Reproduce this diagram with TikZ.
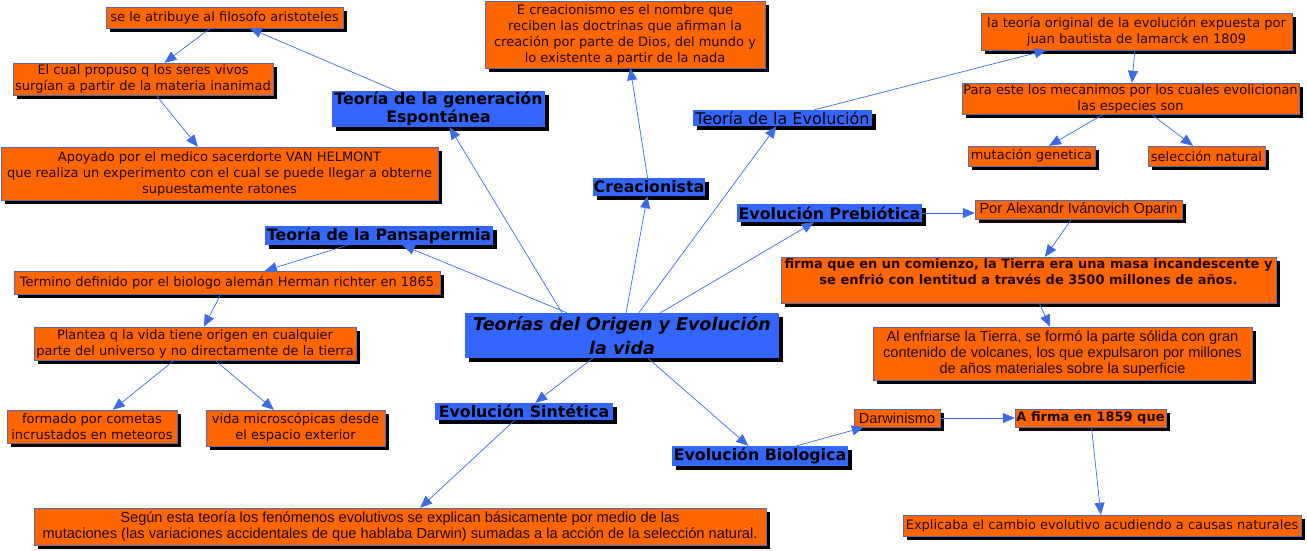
\documentclass[tikz,border=0pt]{standalone}
\usepackage{fontspec}
\setmainfont{DejaVu Sans}
\newfontfamily\narrowfont{Liberation Sans}
\usetikzlibrary{arrows.meta,shadows}
\definecolor{orangefill}{HTML}{FF6600}
\definecolor{bluefill}{HTML}{3366FF}
\definecolor{edgeblue}{HTML}{3D6BE6}
\definecolor{boxline}{HTML}{5A6AA8}
\definecolor{darktext}{HTML}{220800}

\begin{document}
\begin{tikzpicture}[x=1pt,y=-1pt,
boxshadow/.style={drop shadow={shadow xshift=4pt,shadow yshift=-4pt,fill=black,opacity=1}},
sz/.style 2 args={minimum width=#1pt,minimum height=#2pt},
note/.style={draw=boxline,fill=orangefill,boxshadow,align=center,inner sep=1pt,text=darktext,font=\fontsize{13}{16}\selectfont},
narrownote/.style={note,font=\narrowfont\fontsize{14.6}{16}\selectfont},
topic/.style={fill=bluefill,boxshadow,align=center,inner sep=1pt,text=black,font=\bfseries\fontsize{15.8}{18}\selectfont},
arr/.style={-{Triangle[length=12pt,width=10pt]},edgeblue,line width=0.7pt}
]
\useasboundingbox (0,0) rectangle (1307,551);
% centre
\node[topic,sz={314}{45},font=\bfseries\itshape\fontsize{17.5}{24}\selectfont] (central) at (622,335.5) {Teorías del Origen y Evolución\\la vida};
% generacion espontanea
\node[topic,sz={213}{36}] (espontanea) at (438.5,109) {Teoría de la generación\\Espontánea};
\node[note,sz={237}{21}] (aristoteles) at (224.5,17.5) {se le atribuye al filosofo aristoteles};
\node[note,sz={260}{32}] (propuso) at (143,79) {El cual propuso q los seres vivos\\surgían a partir de la materia inanimad};
\node[note,sz={437}{53}] (helmont) at (219.5,173.5) {Apoyado por el medico sacerdorte VAN HELMONT\\que realiza un experimento con el cual se puede llegar a obterne\\supuestamente ratones};
% creacionismo
\node[topic,sz={112}{18}] (creacionista) at (649,187) {Creacionista};
\node[note,sz={280}{67}] (creacion) at (625,34.5) {E creacionismo es el nombre que\\reciben las doctrinas que afirman la\\creación por parte de Dios, del mundo y\\lo existente a partir de la nada};
% lamarck
\node[topic,sz={179}{16},font=\fontsize{16}{18}\selectfont] (teoevol) at (782.5,118) {Teoría de la Evolución};
\node[note,sz={311}{37}] (lamarck) at (1136.5,31.5) {la teoría original de la evolución expuesta por\\juan bautista de lamarck en 1809};
\node[note,sz={337}{31}] (mecanimos) at (1130.5,98.5) {Para este los mecanimos por los cuales evolicionan\\las especies son};
\node[note,sz={127}{20}] (mutacion) at (1031.5,156) {mutación genetica};
\node[note,sz={117}{20}] (seleccion) at (1206.5,156) {selección natural};
% prebiotica
\node[topic,sz={185}{18}] (prebiotica) at (829.5,213) {Evolución Prebiótica};
\node[narrownote,sz={207}{19}] (oparin) at (1078.5,209.5) {Por Alexandr Ivánovich Oparin};
\node[note,sz={495}{46},font=\bfseries\fontsize{13}{16}\selectfont] (firma) at (1028.5,280) {firma que en un comienzo, la Tierra era una masa incandescente y\\se enfrió con lentitud a través de 3500 millones de años.\\\mbox{}};
\node[narrownote,sz={379}{53}] (enfriarse) at (1062.5,353.5) {Al enfriarse la Tierra, se formó la parte sólida con gran\\contenido de volcanes, los que expulsaron por millones\\de años materiales sobre la superficie};
% pansapermia
\node[topic,sz={228}{19}] (pansapermia) at (379,235.5) {Teoría de la Pansapermia};
\node[note,sz={426}{23}] (richter) at (227,282.5) {Termino definido por el biologo alemán Herman richter en 1865};
\node[note,sz={322}{33}] (plantea) at (195,343.5) {Plantea q la vida tiene origen en cualquier\\parte del universo y no directamente de la tierra};
\node[note,sz={170}{33}] (cometas) at (92,426.5) {formado por cometas\\incrustados en meteoros};
\node[note,sz={179}{36}] (microscopicas) at (295.5,428) {vida microscópicas desde\\el espacio exterior};
% sintetica y biologica
\node[topic,sz={178}{17}] (sintetica) at (524,411.5) {Evolución Sintética};
\node[narrownote,sz={732}{37}] (segun) at (400,526.5) {Según esta teoría los fenómenos evolutivos se explican básicamente por medio de las\\mutaciones (las variaciones accidentales de que hablaba Darwin) sumadas a la acción de la selección natural.};
\node[topic,sz={176}{20}] (biologica) at (760,456) {Evolución Biologica};
\node[narrownote,sz={86}{18}] (darwinismo) at (897,418) {Darwinismo};
\node[note,sz={151}{18},font=\bfseries\fontsize{13}{16}\selectfont] (afirma) at (1090.5,418) {A firma en 1859 que};
\node[note,sz={398}{21}] (explicaba) at (1102,525.5) {Explicaba el cambio evolutivo acudiendo a causas naturales};
% connectors
\draw[arr] ([xshift=-60pt]central.north) -- (espontanea);
\draw[arr] (espontanea) -- (aristoteles);
\draw[arr] (aristoteles) -- (propuso);
\draw[arr] (propuso) -- (helmont);
\draw[arr] (central) -- (creacionista);
\draw[arr] (creacionista) -- (creacion);
\draw[arr] (central) -- (teoevol);
\draw[arr] (teoevol) -- ([xshift=-90pt]lamarck.south);
\draw[arr] (lamarck) -- (mecanimos);
\draw[arr] (mecanimos) -- (mutacion);
\draw[arr] (mecanimos) -- (seleccion);
\draw[arr] (central) -- (prebiotica);
\draw[arr] (prebiotica.east) -- (prebiotica.east -| oparin.west);
\draw[arr] (oparin) -- (firma);
\draw[arr] (firma) -- (enfriarse);
\draw[arr] (central) -- (pansapermia);
\draw[arr] (pansapermia) -- (richter);
\draw[arr] (richter) -- (plantea);
\draw[arr] (plantea) -- (cometas);
\draw[arr] (plantea) -- (microscopicas);
\draw[arr] (central) -- (sintetica);
\draw[arr] (sintetica) -- (segun);
\draw[arr] (central) -- (biologica);
\draw[arr] (biologica) -- (darwinismo);
\draw[arr] (darwinismo) -- (afirma);
\draw[arr] (afirma) -- (explicaba);
\end{tikzpicture}
\end{document}
